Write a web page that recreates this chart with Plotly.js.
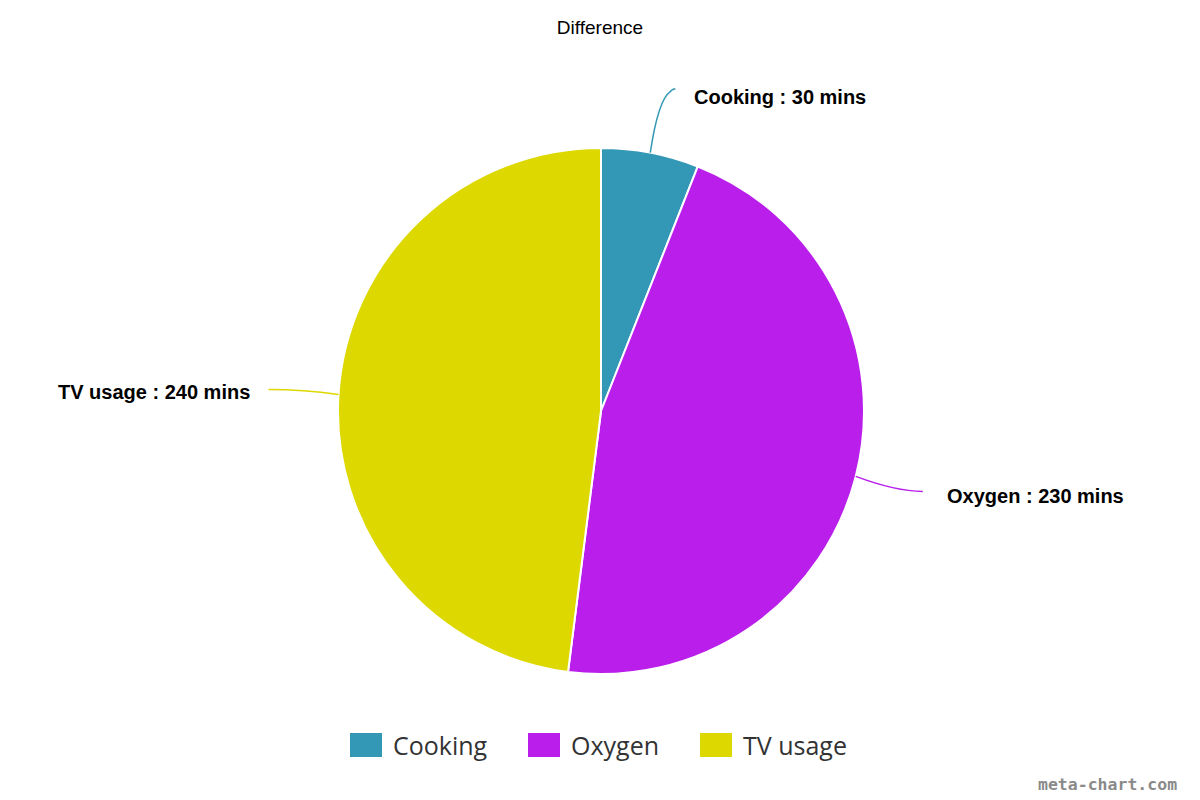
<!DOCTYPE html>
<html>
<head>
<meta charset="utf-8">
<script src="https://cdn.plot.ly/plotly-3.0.1.min.js"></script>
<style>html,body{margin:0;padding:0;background:#fff;}#chart{width:1200px;height:800px;}</style>
</head>
<body>
<div id="chart"></div>
<script>
var categories = ["Cooking", "Oxygen", "TV usage"];
var values = [30, 230, 240];
var unit = "mins";
var colors = ["#3398b6", "#b91eeb", "#ddd800"];

var W = 1200, H = 800;
var cx = 601, cy = 411, R = 263;
function px(x){ return x / W; }
function py(y){ return 1 - y / H; }

var labelStyle = [
  {ex: 20, ey: -61, tx: 22, ty: 5, anchor: "left"},
  {ex: 67, ey: 15, tx: 22, ty: 5, anchor: "left"},
  {ex: -70, ey: -5, tx: -17, ty: 3, anchor: "right"}
];

var total = values.reduce(function(a,b){return a+b;}, 0);
var shapes = [], annotations = [];
var cum = 0;
for (var i = 0; i < values.length; i++) {
  var mid = (cum + values[i] / 2) / total * 2 * Math.PI;
  cum += values[i];
  var sx = cx + R * Math.sin(mid), sy = cy - R * Math.cos(mid);
  var st = labelStyle[i];
  var exx = sx + st.ex, eyy = sy + st.ey;
  var qx = (st.anchor === "left") ? (i === 0 ? sx + st.ex*0.4 : sx + st.ex*0.6) : sx + st.ex*0.5;
  var qy = (i === 0) ? eyy + 8 : eyy;
  shapes.push({
    type: "path", xref: "paper", yref: "paper",
    path: "M" + px(sx) + "," + py(sy) + " Q" + px(qx) + "," + py(qy) + " " + px(exx) + "," + py(eyy) +
          (i === 0 ? " Q" + px(exx+1) + "," + py(eyy-2) + " " + px(exx+5) + "," + py(eyy-3) : ""),
    line: {color: colors[i], width: 1.5}
  });
  annotations.push({
    xref: "paper", yref: "paper",
    x: px(exx + st.tx), y: py(eyy + st.ty),
    xanchor: st.anchor, yanchor: "middle",
    text: "<b>" + categories[i] + " : " + values[i] + " " + unit + "</b>",
    showarrow: false,
    font: {family: "Liberation Sans, Arial, sans-serif", size: 20, color: "#000"}
  });
}

var legX = [350, 528, 700];
for (var j = 0; j < categories.length; j++) {
  shapes.push({
    type: "rect", xref: "paper", yref: "paper",
    x0: px(legX[j]), x1: px(legX[j] + 32), y0: py(757), y1: py(733),
    fillcolor: colors[j], line: {width: 0}
  });
  annotations.push({
    xref: "paper", yref: "paper", x: px(legX[j] + 41), y: py(745),
    xanchor: "left", yanchor: "middle", showarrow: false,
    text: categories[j],
    font: {family: "Open Sans, sans-serif", size: 25, color: "#333"}
  });
}

annotations.push({
  xref: "paper", yref: "paper", x: px(1179), y: py(784),
  xanchor: "right", yanchor: "middle", showarrow: false,
  text: "<b>meta-chart.com</b>",
  font: {family: "DejaVu Sans Mono, monospace", size: 16.5, color: "#8a8a8a"}
});

var trace = {
  type: "pie",
  labels: categories,
  values: values,
  sort: false,
  direction: "clockwise",
  rotation: 0,
  textinfo: "none",
  hoverinfo: "label+value",
  marker: {colors: colors, line: {color: "#fff", width: 2}},
  domain: {x: [px(cx - R), px(cx + R)], y: [py(cy + R), py(cy - R)]},
  showlegend: false
};

var layout = {
  width: W, height: H,
  margin: {l: 0, r: 0, t: 0, b: 0},
  paper_bgcolor: "#fff",
  title: {text: "Difference", x: 0.5, xanchor: "center", y: py(27), yanchor: "middle",
          font: {family: "Liberation Sans, Arial, sans-serif", size: 19, color: "#000"}},
  showlegend: false,
  shapes: shapes,
  annotations: annotations
};

Plotly.newPlot("chart", [trace], layout, {displayModeBar: false, staticPlot: true});
</script>
</body>
</html>
